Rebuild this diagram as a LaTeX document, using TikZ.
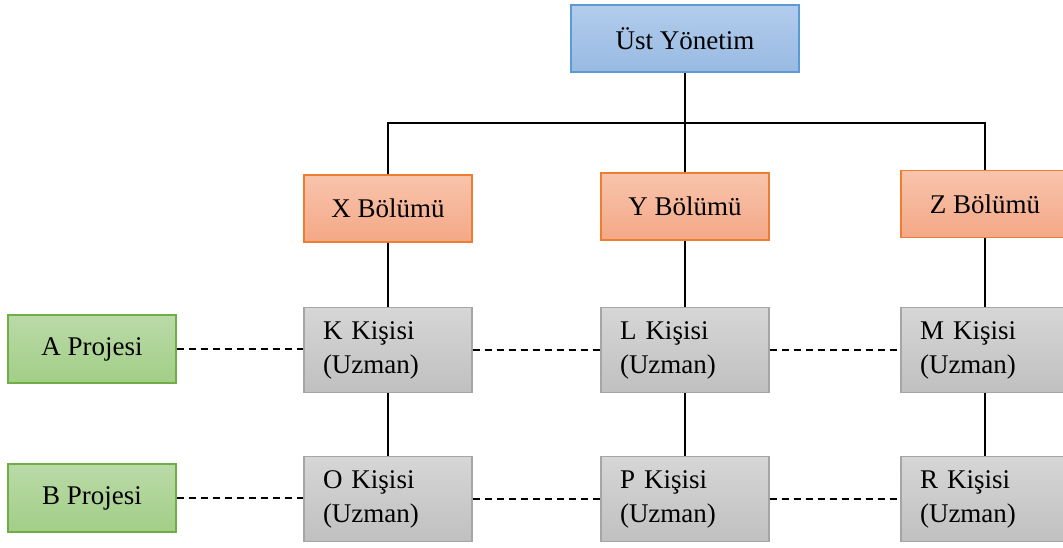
\documentclass[tikz,border=0pt]{standalone}
\usepackage{fontspec}
\setmainfont{Liberation Serif}
\usetikzlibrary{positioning}

\definecolor{blueline}{RGB}{91,155,213}
\definecolor{orangeline}{RGB}{237,125,49}
\definecolor{greenline}{RGB}{112,173,71}
\definecolor{grayline}{RGB}{165,165,165}

\begin{document}
\begin{tikzpicture}[
    x=0.5pt, y=-0.5pt,
    font=\fontsize{13.5}{17}\selectfont,
    base/.style={rectangle, minimum width=84pt, align=center, line width=0.6pt},
    topbox/.style={base, draw=blueline, top color={rgb,255:red,178;green,204;blue,236}, bottom color={rgb,255:red,152;green,186;blue,226}, minimum width=114pt, minimum height=33.5pt},
    deptbox/.style={base, draw=orangeline, top color={rgb,255:red,248;green,196;blue,172}, bottom color={rgb,255:red,244;green,168;blue,134}, minimum height=33.5pt},
    projbox/.style={base, draw=greenline, top color={rgb,255:red,186;green,218;blue,168}, bottom color={rgb,255:red,162;green,206;blue,134}, minimum height=34pt},
    personbox/.style={base, draw=grayline, top color={rgb,255:red,214;green,214;blue,214}, bottom color={rgb,255:red,192;green,192;blue,192}, minimum height=42.5pt, text width=65pt, inner xsep=9.5pt, align=left},
    link/.style={line width=0.6pt},
    dashlink/.style={line width=0.9pt, dash pattern=on 3.5pt off 2.5pt}
]
    \useasboundingbox (0,0) rectangle (1063,547);

    % Nodes
    \node[topbox] (ust) at (685,38.5) {Üst Yönetim};

    \node[deptbox] (xb) at (388,208.5) {X Bölümü};
    \node[deptbox] (yb) at (685,206.5) {Y Bölümü};
    \node[deptbox] (zb) at (985,204) {Z Bölümü};

    \node[projbox] (pa) at (92,349) {A Projesi};
    \node[personbox] (k) at (388,350) {K Kişisi\\(Uzman)};
    \node[personbox] (l) at (685,350) {L Kişisi\\(Uzman)};
    \node[personbox] (m) at (985,350) {M Kişisi\\(Uzman)};

    \node[projbox] (pb) at (92,498) {B Projesi};
    \node[personbox] (o) at (388,499) {O Kişisi\\(Uzman)};
    \node[personbox] (p) at (685,499) {P Kişisi\\(Uzman)};
    \node[personbox] (r) at (985,499) {R Kişisi\\(Uzman)};

    \coordinate (bus) at (685,123);

    % Lines
    \draw[link] (ust) -- (bus);
    \draw[link] (xb.north) |- (bus) -| (zb.north);
    \draw[link] (bus) -- (yb.north);
    \draw[link] (xb) -- (k);
    \draw[link] (k) -- (o);
    \draw[link] (yb) -- (l);
    \draw[link] (l) -- (p);
    \draw[link] (zb) -- (m);
    \draw[link] (m) -- (r);

    % Projects
    \draw[dashlink] (pa.east) -- (k.west |- pa.east);
    \draw[dashlink] (k) -- (l);
    \draw[dashlink] (l) -- (m);
    \draw[dashlink] (pb.east) -- (o.west |- pb.east);
    \draw[dashlink] (o) -- (p);
    \draw[dashlink] (p) -- (r);
\end{tikzpicture}
\end{document}
